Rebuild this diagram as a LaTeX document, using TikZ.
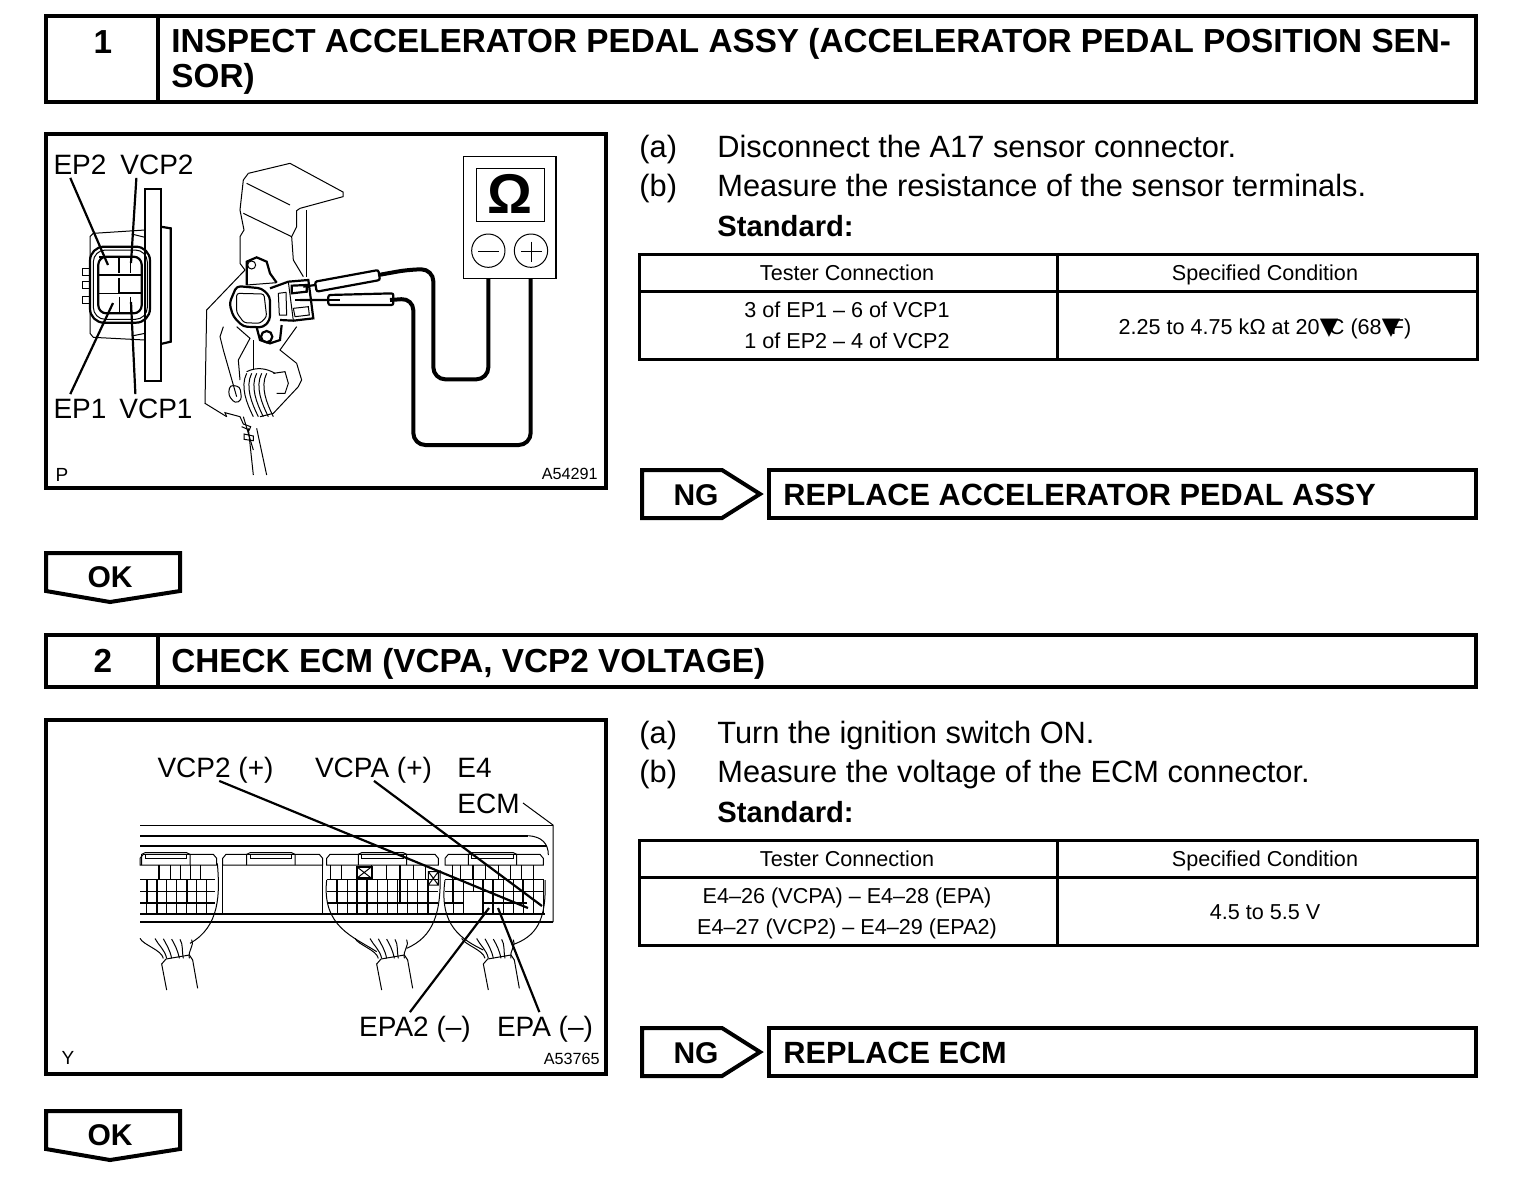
\documentclass[tikz,border=0pt]{standalone}
\usepackage{fontspec}
\setmainfont{Liberation Sans}
\newfontfamily\symfont{DejaVu Sans}
\usetikzlibrary{positioning}
\tikzset{
  frameline/.style={line width=2pt},
  tblline/.style={line width=1.5pt},
  thinline/.style={line width=.5pt},
  heavyline/.style={line width=1.1pt},
  leader/.style={line width=1.1pt},
  wire/.style={line width=2pt,rounded corners=6pt},
  headtxt/.style={inner sep=0,font=\bfseries\fontsize{16.65}{17.5}\selectfont},
  steptxt/.style={inner sep=0,text height=10.5pt,text depth=0pt,anchor=west,font=\fontsize{15.4}{16}\selectfont},
  calltxt/.style={inner sep=1.5pt,text height=10.5pt,text depth=0pt,font=\fontsize{14}{16}\selectfont},
  celltxt/.style={inner sep=0,text height=7.5pt,text depth=0pt,font=\fontsize{10.8}{12}\selectfont},
  smalltxt/.style={inner sep=0,text height=6pt,text depth=0pt,font=\fontsize{8.1}{10}\selectfont},
  actiontxt/.style={inner sep=0,text height=11pt,text depth=0pt,anchor=west,font=\bfseries\fontsize{15.35}{18}\selectfont},
  tagtxt/.style={inner sep=0,text height=11pt,text depth=0pt,font=\bfseries\fontsize{15}{18}\selectfont},
}
% the black mark on a degree sign
\newcommand{\degmark}{\makebox[4.6pt][l]{\symfont\fontsize{12}{12}\selectfont ▼}}
% tester table, #1 is the y shift
\newcommand{\stepbits}[1]{
  \begin{scope}[yshift=#1*-.5pt]
    \draw[tblline] (639,254) rectangle (1477,359);
    \draw[tblline] (639,291) -- (1477,291);
    \draw[tblline] (1057,254) -- (1057,359);
  \end{scope}
}
% NG arrow, result box and OK tab, #1 is the y shift
\newcommand{\resultbits}[1]{
  \begin{scope}[yshift=#1*-.5pt]
    \draw[frameline] (642,470) -- (722,470) -- (760,494) -- (722,518) -- (642,518) -- cycle;
    \draw[frameline] (769,470) rectangle (1476,518);
    \draw[frameline] (46,553) -- (180,553) -- (180,591) -- (110,602) -- (46,591) -- cycle;
  \end{scope}
}
% top of one ECM connector: #1 left, #2 right, #3 left of the latch
\newcommand{\ecmtop}[3]{
  \draw[thinline] (#1,375) -- (#1,355) -- ++(10,-12) -- (#2-10,343) -- (#2,355) -- (#2,375) -- cycle;
  \draw[thinline] (#3,375) -- (#3,343) -- ++(10,-5) -- ++(125,0) -- ++(10,5) -- ++(0,32);
  \draw[thinline] (#3+10,345) -- ++(0,10) -- ++(125,0) -- ++(0,-10);
}
% harness below a connector, #1 is the x shift
\newcommand{\ecmharness}[1]{
  \begin{scope}[xshift=#1*.5pt]
    \draw[thinline] (110,750) -- (95,672) -- (108,657) -- (178,645) -- (188,660) -- (203,745);
    \foreach \a/\b in {100/30,110/75,125/100,148/125,160/150,178/185}
      \draw[thinline] (\a,655) .. controls (\a-5,630) and (\b+10,615) .. (\b,590+\a/20);
  \end{scope}
}
\begin{document}
\begin{tikzpicture}[x=.5pt,y=-.5pt]
  \useasboundingbox (0,0) rectangle (1536,1196);
  % headers
  \draw[frameline] (46,16) rectangle (1476,102);
  \draw[frameline] (158,16) -- (158,102);
  \draw[frameline] (46,635) rectangle (1476,687);
  \draw[frameline] (158,635) -- (158,687);
  \node[headtxt] (numone) at (103,42) {1};
  \node[headtxt,anchor=west,align=left] (headone) at (171,61) {INSPECT ACCELERATOR PEDAL ASSY (ACCELERATOR PEDAL POSITION SEN-\\SOR)};
  \node[headtxt] (numtwo) at (103,661) {2};
  \node[headtxt,anchor=west] (headtwo) at (171,664) {CHECK ECM (VCPA, VCP2 VOLTAGE)};
  % picture frames
  \draw[frameline] (46,134) rectangle (606,488);
  \draw[frameline] (46,720) rectangle (606,1074);
  \stepbits{0}
  \stepbits{586}
  \resultbits{0}
  \resultbits{558}
  \node[steptxt] (aone) at (639,147) {(a)};
  \node[steptxt] (atxtone) at (717,147) {Disconnect the A17 sensor connector.};
  \node[steptxt] (bone) at (639,186) {(b)};
  \node[steptxt] (btxtone) at (717,186) {Measure the resistance of the sensor terminals.};
  \node[steptxt] (stdone) at (717,226) {\bfseries\fontsize{14.6}{16}\selectfont Standard:};
  \node[celltxt] (testerone) at (847,273) {Tester Connection};
  \node[celltxt] (specone) at (1265,273) {Specified Condition};
  \node[celltxt] (rowoneA) at (847,310) {3 of EP1 – 6 of VCP1};
  \node[celltxt] (rowoneB) at (847,341) {1 of EP2 – 4 of VCP2};
  \node[celltxt] (valone) at (1265,327) {2.25 to 4.75 kΩ at 20\degmark C (68\degmark F)};
  \node[tagtxt] (ngone) at (696,494) {NG};
  \node[actiontxt] (replone) at (783,494) {REPLACE ACCELERATOR PEDAL ASSY};
  \node[tagtxt] (okone) at (110,576) {OK};
  \node[steptxt] (atwo) at (639,733) {(a)};
  \node[steptxt] (atxttwo) at (717,733) {Turn the ignition switch ON.};
  \node[steptxt] (btwo) at (639,772) {(b)};
  \node[steptxt] (btxttwo) at (717,772) {Measure the voltage of the ECM connector.};
  \node[steptxt] (stdtwo) at (717,812) {\bfseries\fontsize{14.6}{16}\selectfont Standard:};
  \node[celltxt] (testertwo) at (847,859) {Tester Connection};
  \node[celltxt] (spectwo) at (1265,859) {Specified Condition};
  \node[celltxt] (rowtwoA) at (847,896) {E4–26 (VCPA) – E4–28 (EPA)};
  \node[celltxt] (rowtwoB) at (847,927) {E4–27 (VCP2) – E4–29 (EPA2)};
  \node[celltxt] (valtwo) at (1265,912) {4.5 to 5.5 V};
  \node[tagtxt] (ngtwo) at (696,1052) {NG};
  \node[actiontxt] (repltwo) at (783,1052) {REPLACE ECM};
  \node[tagtxt] (oktwo) at (110,1134) {OK};
  % picture 1, labels
  \node[calltxt] (epB) at (80,164) {EP2};
  \node[calltxt] (vcpB) at (157,164) {VCP2};
  \node[calltxt] (epA) at (80,408) {EP1};
  \node[calltxt] (vcpA) at (156,408) {VCP1};
  \node[smalltxt,font=\fontsize{9.5}{10}\selectfont] (figone) at (62,475) {P};
  \node[smalltxt,anchor=east] (idone) at (598,473) {A54291};
  \coordinate (epBtip) at (108,265);
  \coordinate (vcpBtip) at (131,263);
  \coordinate (epAtip) at (113,303);
  \coordinate (vcpAtip) at (131,302);
  \draw[leader] (epB.235) -- (epBtip);
  \draw[leader] (vcpB.214) -- (vcpBtip);
  \draw[leader] (epA.125) -- (epAtip);
  \draw[leader] (vcpA.146) -- (vcpAtip);
  % zoomed coordinates from here, 3 units to the pixel
  \begin{scope}[shift={(40,130)},scale=1/3]
    % sensor seen from the front
    \draw[heavyline] (315,178) rectangle (362,752);
    \draw[heavyline] (362,290) -- (392,295) -- (392,635) -- (362,642);
    \draw[thinline] (315,300) -- (160,310) -- (150,320) -- (150,610) -- (160,622) -- (315,630);
    \draw[thinline] (275,312) -- (315,322) (275,618) -- (315,610);
    \draw[heavyline,rounded corners=7pt] (150,350) rectangle (330,578);
    \draw[thinline,rounded corners=6pt] (160,360) rectangle (322,568);
    \draw[heavyline,rounded corners=4pt] (175,380) rectangle (305,550);
    \foreach \y in {415,455,500}
      \draw[thinline] (148,\y) -- (128,\y) -- (128,\y+20) -- (148,\y+20);
    \draw[heavyline] (178,380) -- (238,380) -- (238,430) (178,435) -- (305,435);
    \draw[heavyline] (238,445) -- (238,490) -- (305,490);
    \draw[thinline] (178,490) -- (238,490) (238,500) -- (238,550) (272,380) -- (272,430);
    \draw[thinline] (272,500) -- (272,550);
    % bracket and pedal
    \draw[thinline] (625,130) -- (750,100) -- (909,186) -- (909,200) -- (780,235) -- (770,242) -- (770,290) -- (755,320) -- (760,390) -- (790,440);
    \draw[thinline] (625,130) -- (610,150) -- (600,240) -- (612,300) -- (600,320) -- (600,400) -- (615,420) -- (500,540) -- (495,820) -- (560,860);
    \draw[thinline] (800,240) -- (800,440);
    \draw[thinline] (620,160) -- (750,225) (610,250) -- (755,320);
    \draw[heavyline] (620,465) -- (620,395) -- (650,382) -- (680,395) -- (690,430) -- (710,458);
    \draw[thinline] (635,405) circle (12);
    \draw[heavyline,rounded corners=2pt] (590,468) -- (665,475) -- (690,500) -- (690,570) -- (670,592) -- (610,590) -- (580,560) -- (568,520) -- cycle;
    \draw[thinline,rounded corners=1.3pt] (590,490) -- (672,492) -- (680,560) -- (660,580) -- (612,578) -- (590,548) -- cycle;
    \draw[heavyline] (650,592) -- (660,630) -- (690,640) -- (720,630) -- (725,585);
    \draw[heavyline] (680,620) circle (17);
    \draw[heavyline] (690,475) -- (745,455) -- (805,450) -- (820,565) -- (760,572) -- (720,570);
    \draw[thinline] (620,465) -- (710,458) (745,455) -- (760,572);
    \draw[heavyline] (755,467) -- (800,465) -- (800,485) -- (755,490) -- cycle;
    \draw[thinline] (715,490) -- (738,487) -- (740,555) -- (718,555) -- cycle;
    \draw[thinline] (760,535) -- (805,530) -- (808,555) -- (765,560) -- cycle;
    \draw[heavyline] (765,510) -- (900,510);
    \draw[thinline] (550,590) -- (540,620) -- (550,660) -- (590,800) (590,590) -- (630,625) -- (595,690) -- (600,750);
    \draw[thinline] (640,630) -- (640,720);
    \draw[thinline] (770,590) -- (720,660) -- (770,700) -- (785,750) -- (775,770) -- (700,850) -- (660,860);
    \draw[thinline] (700,730) -- (735,725) -- (745,760) -- (735,790) -- (710,790);
    \foreach \d in {0,15,30,45,60}
      \draw[thinline] (620+\d,730) .. controls (600+\d,770) and (620+\d,820) .. (640+\d,860);
    \draw[thinline] (620,725) .. controls (650,710) and (680,715) .. (705,730);
    \draw[thinline,rounded corners=1.7pt] (570,765) -- (600,770) -- (605,810) -- (585,820) -- (565,795) -- cycle;
    \draw[thinline] (560,860) -- (555,848) -- (600,860) -- (610,882) -- (632,890) -- (628,900) -- (605,890);
    \draw[thinline] (612,912) -- (640,918) -- (640,932) -- (612,928) -- cycle;
    \draw[thinline] (625,895) -- (640,1035) (650,895) -- (680,1035);
    \draw[thinline] (610,860) -- (640,960);
  \end{scope}
  \begin{scope}[shift={(300,130)},scale=1/3]
    % probes and wires
    \draw[heavyline,rounded corners=1pt] (45,455) -- (235,420) -- (240,450) -- (50,485) -- cycle;
    \draw[heavyline,rounded corners=1pt] (85,495) -- (280,490) -- (280,525) -- (85,525) -- cycle;
    \draw[heavyline] (10,470) -- (45,465) (0,510) -- (85,510);
    \draw[thinline] (30,480) -- (30,495);
    \draw[wire] (235,435) -- (330,418) -- (400,418) -- (400,748) -- (565,748) -- (565,445);
    \draw[wire] (270,510) -- (340,505) -- (340,945) -- (692,945) -- (692,445);
    % ohmmeter
    \draw[line width=.8pt] (490,80) rectangle (768,445);
    \draw[thinline] (530,115) rectangle (732,275);
    \node[inner sep=0,font=\bfseries\fontsize{28}{29}\selectfont] (ohm) at (630,192) {Ω};
    \draw[thinline] (565,362) circle (50);
    \draw[thinline] (693,362) circle (50);
    \draw[thinline] (535,365) -- (597,365);
    \draw[thinline] (663,365) -- (725,365) (693,335) -- (693,395);
  \end{scope}
  % picture 2, labels
  \node[calltxt] (lblVCPtwo) at (215.5,767) {VCP2 (+)};
  \node[calltxt] (lblVCPA) at (373.5,767) {VCPA (+)};
  \node[calltxt,anchor=west] (lblEfour) at (454,767) {E4};
  \node[calltxt,anchor=west] (lblECM) at (454,803) {ECM};
  \node[calltxt] (lblEPAtwo) at (415,1026) {EPA2 (–)};
  \node[calltxt] (lblEPA) at (545,1026) {EPA (–)};
  \node[smalltxt,font=\fontsize{9.5}{10}\selectfont] (figtwo) at (68,1058) {Y};
  \node[smalltxt,anchor=east] (idtwo) at (600,1058) {A53765};
  \coordinate (VCPtwotip) at (528,908);
  \coordinate (VCPAtip) at (542,906);
  \coordinate (EPAtwotip) at (489,908);
  \coordinate (EPAtip) at (498,908);
  \coordinate (ECMbend) at (553,825);
  \coordinate (ECMfoot) at (553,922);
  \draw[leader] (lblVCPtwo.285) -- (VCPtwotip);
  \draw[leader] (lblVCPA.272) -- (VCPAtip);
  \draw[leader] (lblEPAtwo.110) -- (EPAtwotip);
  \draw[leader] (lblEPA.112) -- (EPAtip);
  \draw[thinline] (lblECM.east) -- (ECMbend) -- (ECMfoot);
  \begin{scope}[shift={(130,740)},scale=1/3]
    % ECM housing
    \draw[thinline] (30,255) -- (1268,255);
    \draw[heavyline] (30,287) -- (1195,287);
    \draw[thinline] (1195,287) .. controls (1235,290) and (1255,310) .. (1255,345);
    \draw[heavyline] (30,318) -- (1250,318);
    \draw[heavyline] (30,523) -- (1245,523);
    \draw[heavyline] (30,545) -- (1268,545);
    % connector tops
    \ecmtop{30}{260}{35}
    \ecmtop{278}{578}{350}
    \ecmtop{590}{925}{685}
    \ecmtop{945}{1240}{1015}
    \draw[thinline] (278,375) -- (278,523) (578,375) -- (578,523);
    % terminal grids
    \foreach \y in {418,455} {
      \draw[thinline] (30,\y) -- (255,\y);
      \draw[thinline] (590,\y) -- (925,\y);
      \draw[thinline] (945,\y) -- (1240,\y);
    }
    % top row is wider than the rows below
    \foreach \x in {120,150,180,210,600,635,725,770,850,885,968,990,1065,1105,1140,1175,1210}
      \draw[thinline] (\x,375) -- (\x,418);
    \foreach \x in {50,80,...,230}
      \draw[thinline] (\x,418) -- (\x,523);
    \foreach \x in {622,652,...,920}
      \draw[thinline] (\x,418) -- (\x,523);
    \foreach \x in {970,1000,1060,1090,...,1240}
      \draw[thinline] (\x,418) -- (\x,523);
    \draw[thinline] (1030,418) -- (1030,455);
    \draw[heavyline] (30,490) -- (255,490) (590,490) -- (925,490) (945,490) -- (1000,490) (1060,490) -- (1190,490);
    \foreach \x/\a/\b in {50/418/490,80/418/523,88/375/418,170/418/490,622/418/490,682/418/523,712/418/523,810/375/490,895/418/523,968/418/490,1030/375/418,1060/418/523,1090/418/523,1180/418/490}
      \draw[heavyline] (\x,\a) -- (\x,\b);
    % blocked cavities
    \draw[heavyline] (680,380) rectangle (725,415);
    \draw[thinline] (680,380) -- (725,415) (680,415) -- (725,380);
    \draw[thinline] (895,395) rectangle (925,435) (895,395) -- (925,435) (895,435) -- (925,395);
    % cables
    \draw[thinline] (262,370) .. controls (270,460) and (270,560) .. (180,610);
    \draw[thinline] (590,420) .. controls (575,560) and (670,590) .. (740,635);
    \draw[thinline] (930,390) .. controls (935,520) and (910,590) .. (830,625);
    \draw[thinline] (945,420) .. controls (925,560) and (1000,600) .. (1060,630);
    \draw[thinline] (1245,420) .. controls (1250,540) and (1220,590) .. (1145,615);
    \ecmharness{0}
    \ecmharness{645}
    \ecmharness{965}
  \end{scope}
\end{tikzpicture}
\end{document}
